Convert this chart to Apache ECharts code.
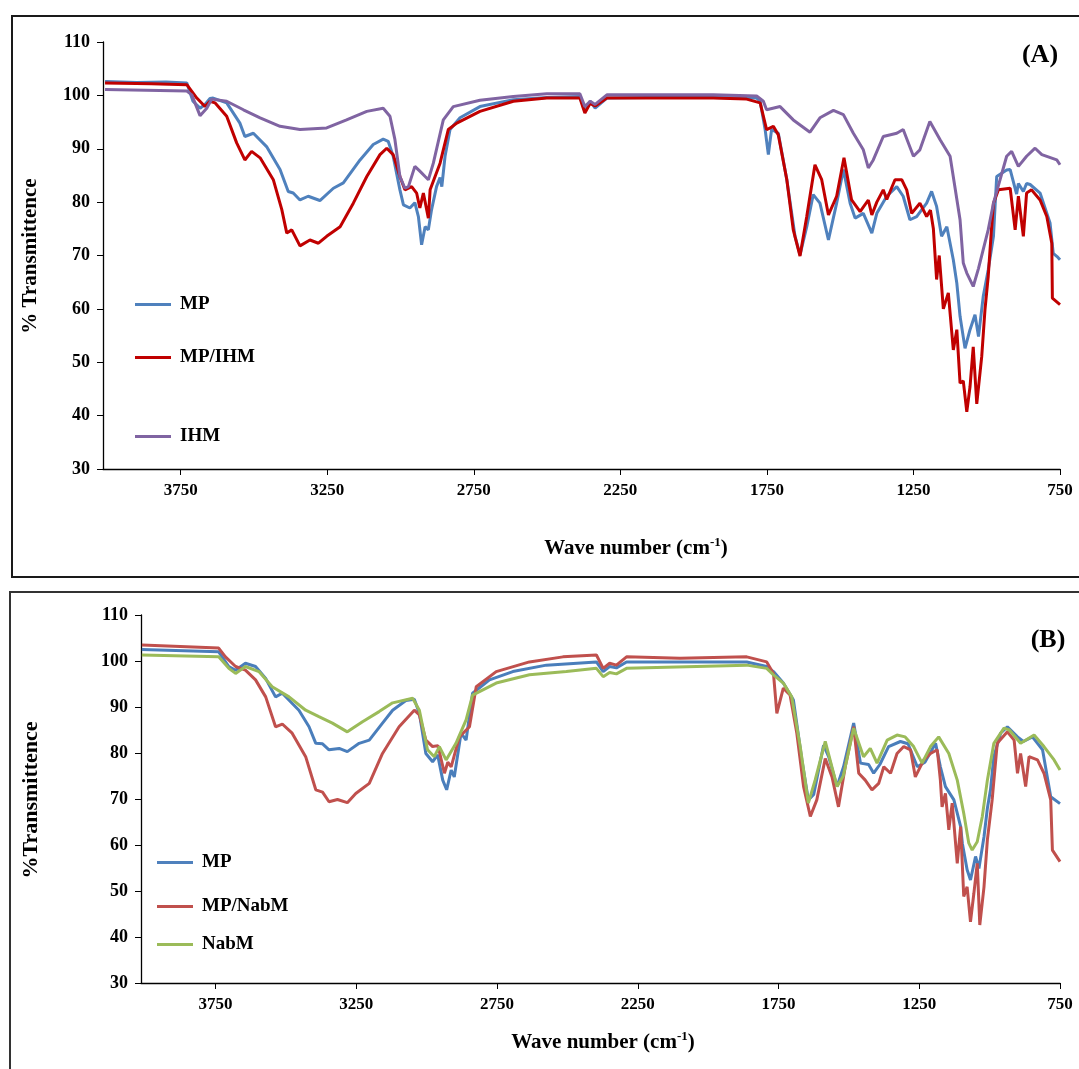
<!DOCTYPE html>
<html>
<head>
<meta charset="utf-8">
<title>FTIR spectra</title>
<script src="https://cdn.jsdelivr.net/npm/echarts@6/dist/echarts.min.js"></script>
<style>
html, body { margin: 0; padding: 0; background: #fff; }
#chart { width: 1079px; height: 1069px; }
</style>
</head>
<body>
<div id="chart"></div>
<script>
// wave number ticks shared by both panels
const tickWn = [3750, 3250, 2750, 2250, 1750, 1250, 750];

// panel (A): [wave number, %T]
const mpA = [[4008,102.6],[3900,102.4],[3800,102.5],[3729,102.3],[3708,98.9],[3684,97.6],[3667,98.3],[3650,99.4],[3639,99.5],[3593,98.6],[3548,94.8],[3531,92.3],[3502,92.9],[3457,90.4],[3411,86.1],[3383,82],[3366,81.7],[3343,80.4],[3315,81.1],[3275,80.3],[3229,82.6],[3195,83.6],[3138,87.9],[3093,90.8],[3059,91.8],[3042,91.4],[3025,88.6],[3002,82.3],[2990,79.5],[2968,78.9],[2951,79.9],[2939,77.3],[2928,72],[2916,75.4],[2905,74.8],[2894,78.6],[2877,82.9],[2865,84.6],[2859,82.9],[2848,88.6],[2831,93.6],[2797,95.8],[2729,97.9],[2615,99.2],[2501,99.6],[2388,99.8],[2371,97],[2353,98.9],[2336,97.6],[2296,99.5],[2160,99.6],[1933,99.6],[1785,99.5],[1773,98.9],[1756,93.6],[1745,88.9],[1734,93.6],[1711,92.9],[1682,84.2],[1654,73.6],[1637,70.1],[1614,75.4],[1592,81.4],[1569,79.8],[1540,72.9],[1512,79.8],[1489,86.1],[1466,79.8],[1449,77],[1421,77.9],[1392,74.2],[1375,77.9],[1341,81.1],[1307,82.9],[1285,81.1],[1262,76.7],[1239,77.3],[1205,79.8],[1188,82],[1171,79.2],[1154,73.6],[1136,75.4],[1114,69.2],[1102,64.8],[1091,58.6],[1074,52.6],[1057,56.1],[1040,58.9],[1028,54.8],[1012,62.3],[995,67.3],[977,73.6],[966,84.8],[932,86],[920,86.1],[898,81.5],[892,83.5],[875,82],[864,83.5],[852,83.3],[818,81.7],[784,76.1],[773,70.4],[760,69.8],[750,69.2]];
const mpIhm = [[4008,102.3],[3850,102.2],[3729,102],[3695,99.5],[3667,97.9],[3650,98.9],[3633,98.6],[3593,96.1],[3559,91.1],[3531,87.9],[3508,89.5],[3479,88.3],[3434,84.2],[3405,78.6],[3388,74.2],[3371,74.8],[3343,71.8],[3309,72.9],[3280,72.3],[3252,73.6],[3206,75.4],[3161,79.8],[3115,84.8],[3070,88.9],[3047,90.1],[3025,88.9],[3002,84.8],[2985,82.3],[2962,82.9],[2945,81.7],[2934,78.9],[2922,81.7],[2905,77],[2899,82.3],[2865,87.3],[2837,93.6],[2808,94.8],[2729,97],[2615,98.9],[2501,99.5],[2388,99.5],[2371,96.7],[2353,98.5],[2336,98],[2296,99.5],[1933,99.5],[1819,99.3],[1773,98.6],[1751,93.6],[1728,94.2],[1711,92.6],[1682,84.2],[1660,74.8],[1637,69.9],[1614,77.3],[1586,87],[1563,84.2],[1540,77.6],[1512,81.1],[1487,88.3],[1461,80.4],[1432,78.2],[1404,80.4],[1392,77.6],[1375,80],[1353,82.3],[1341,80.5],[1313,84.2],[1290,84.2],[1273,82.3],[1256,77.9],[1228,79.8],[1205,77.3],[1192,78.5],[1182,75],[1171,65.5],[1162,70],[1148,60],[1131,63],[1114,52.3],[1102,56.1],[1091,46.1],[1080,46.5],[1068,40.7],[1057,45.4],[1046,52.9],[1034,42.2],[1017,51.1],[1006,59.8],[995,66],[985,74],[977,79.8],[960,82.3],[920,82.6],[903,74.8],[892,81.1],[875,73.6],[864,81.7],[847,82.3],[818,80.4],[795,77.3],[778,72.3],[776,62],[750,60.8]];
const ihm = [[4008,101.1],[3729,100.8],[3712,100.1],[3684,96.2],[3661,97.6],[3644,99.3],[3593,98.9],[3536,97.3],[3479,95.8],[3411,94.2],[3343,93.6],[3252,93.9],[3184,95.4],[3115,97],[3059,97.6],[3036,96.1],[3019,91.7],[3002,84.8],[2985,82.6],[2973,82.9],[2951,86.7],[2934,85.8],[2916,84.8],[2905,84.2],[2888,87.3],[2854,95.4],[2820,97.9],[2729,99.1],[2615,99.8],[2501,100.3],[2388,100.3],[2371,97.9],[2353,98.9],[2336,98.3],[2296,100.1],[2160,100.1],[1933,100.1],[1785,99.9],[1762,98.9],[1751,97.3],[1705,97.9],[1660,95.4],[1603,93.1],[1569,95.8],[1523,97.2],[1489,96.4],[1455,92.9],[1421,89.8],[1404,86.4],[1387,87.9],[1353,92.3],[1307,92.9],[1285,93.6],[1250,88.6],[1228,89.8],[1194,95.1],[1159,91.7],[1125,88.6],[1091,76.7],[1080,68.6],[1068,66.7],[1046,64.2],[1028,67.6],[1012,71.1],[995,74.8],[977,79.8],[932,88.6],[915,89.5],[892,86.7],[864,88.6],[835,90.1],[812,88.9],[761,87.9],[750,87]];

// panel (B): [wave number, %T]
const mpB = [[4012,102.5],[3739,102],[3703,98.8],[3679,98],[3644,99.5],[3608,98.8],[3572,96.2],[3537,92.2],[3513,93],[3454,89.3],[3418,85.7],[3394,82.1],[3370,82],[3347,80.7],[3311,81],[3282,80.3],[3240,82.1],[3204,82.8],[3157,86.5],[3121,89.3],[3074,91.4],[3044,91.7],[3026,88.6],[3003,79.9],[2979,78.1],[2961,79.6],[2943,74.1],[2929,72],[2913,76.3],[2902,74.8],[2878,84.3],[2860,82.8],[2837,93],[2777,95.9],[2694,97.7],[2575,99.1],[2397,99.8],[2373,97.7],[2350,98.8],[2326,98.5],[2290,99.8],[1863,99.8],[1792,98.8],[1768,97.7],[1733,95.2],[1697,91.5],[1667,78.5],[1644,69.8],[1625,71],[1590,81.7],[1572,79.2],[1542,72.7],[1519,77],[1483,86.5],[1459,77.8],[1430,77.5],[1412,75.6],[1390,77.5],[1359,81.4],[1317,82.5],[1290,82],[1257,77],[1230,78],[1192,82.1],[1175,77],[1157,72.7],[1127,69.8],[1103,64],[1097,60.4],[1080,54.6],[1068,52.4],[1050,57.5],[1038,54.9],[1020,61.8],[1008,68],[997,72],[985,79.2],[961,84.3],[937,85.7],[901,83.5],[880,82.5],[848,83.5],[812,80.7],[783,70.5],[750,69]];
const mpNabm = [[4012,103.5],[3739,102.8],[3715,100.9],[3679,98.8],[3644,98],[3608,95.9],[3572,92.2],[3537,85.7],[3513,86.3],[3478,84.3],[3430,79.2],[3394,72],[3370,71.5],[3347,69.4],[3317,69.9],[3282,69.2],[3252,71.2],[3204,73.4],[3157,79.9],[3098,85.7],[3044,89.3],[3026,88.3],[3003,82.8],[2979,81.4],[2960,81.6],[2937,75.6],[2925,78],[2913,77],[2884,83.5],[2848,85.7],[2824,94.4],[2753,97.7],[2635,99.8],[2516,100.9],[2397,101.3],[2373,98.4],[2350,99.5],[2326,99.1],[2290,100.9],[2100,100.6],[1863,100.9],[1792,99.8],[1768,97.3],[1756,88.6],[1733,94.1],[1709,92.6],[1685,84.3],[1661,72.7],[1637,66.2],[1614,69.8],[1584,78.8],[1560,74.8],[1537,68.3],[1513,77],[1483,85.7],[1465,75.6],[1442,74.1],[1418,72],[1394,73.4],[1376,77],[1352,75.6],[1329,79.9],[1305,81.4],[1281,80.7],[1264,74.8],[1234,78.5],[1210,79.9],[1186,80.7],[1175,74.1],[1169,68.3],[1157,71.2],[1145,63.3],[1133,69.1],[1115,56],[1103,64],[1092,48.8],[1080,50.9],[1068,43.3],[1056,49.5],[1044,56],[1035,42.6],[1020,50.9],[1008,61.1],[991,69.8],[973,82.1],[937,84.6],[913,82.8],[901,75.6],[890,79.9],[872,72.7],[860,79.2],[830,78.5],[807,75.6],[783,69.8],[777,58.9],[750,56.4]];
const nabm = [[4012,101.3],[3739,100.9],[3703,98.4],[3679,97.3],[3644,98.8],[3596,97.7],[3549,94.4],[3489,92.2],[3430,89.3],[3383,87.9],[3335,86.5],[3282,84.6],[3228,86.8],[3169,89],[3121,90.9],[3050,91.9],[3026,89.3],[2997,80.7],[2973,79.2],[2955,81.4],[2931,78.5],[2896,82.1],[2860,87.2],[2837,92.6],[2753,95.2],[2635,97],[2504,97.7],[2397,98.4],[2373,96.6],[2350,97.5],[2326,97.2],[2290,98.4],[1863,99.1],[1792,98.4],[1768,97],[1733,95.2],[1703,92.2],[1673,81.4],[1644,69.1],[1620,74.1],[1584,82.5],[1542,72.7],[1520,75],[1483,85.4],[1448,79.2],[1424,81],[1400,77.8],[1364,82.8],[1329,83.9],[1300,83.5],[1270,81.4],[1240,77.8],[1210,81.4],[1181,83.5],[1145,79.9],[1115,74.1],[1092,66.9],[1074,60.4],[1062,58.9],[1044,60.7],[1026,66.2],[1008,74.1],[985,82.1],[949,85.4],[930,85],[890,82.1],[842,83.9],[807,81.4],[771,78.5],[750,76.3]];

const FONT = '"Liberation Serif", "Times New Roman", serif';
const boldText = { fontFamily: FONT, fontWeight: 'bold', color: '#000' };

function xAxisFor(gridIndex) {
  return {
    type: 'value', gridIndex, min: 750, max: 4015, inverse: true,
    axisLine: { show: true, onZero: false, lineStyle: { color: '#000', width: 1.3 } },
    axisTick: { show: true, customValues: tickWn, length: 6, lineStyle: { color: '#000' } },
    axisLabel: { customValues: tickWn, ...boldText, fontSize: 17, margin: 13, formatter: (v) => String(v) },
    splitLine: { show: false },
  };
}
function yAxisFor(gridIndex) {
  return {
    type: 'value', gridIndex, min: 30, max: 110, interval: 10,
    axisLine: { show: true, lineStyle: { color: '#000', width: 1.3 } },
    axisTick: { show: true, length: 6, lineStyle: { color: '#000' } },
    axisLabel: { ...boldText, fontSize: 18, margin: 13 },
    splitLine: { show: false },
  };
}
function line(name, data, color, idx) {
  return {
    name, type: 'line', data, xAxisIndex: idx, yAxisIndex: idx,
    symbol: 'none', smooth: false, lineStyle: { width: 3, color }, itemStyle: { color },
  };
}
function legendAt(name, left, top) {
  return {
    data: [name], left, top, icon: 'rect', itemWidth: 36, itemHeight: 3,
    textStyle: { ...boldText, fontSize: 19, padding: [0, 0, 0, 4] },
  };
}
function titleText(x, y, rotation, size) {
  return {
    type: 'text', x, y, rotation,
    style: {
      text: '{a|Wave number (cm}{s|-1}{a|)}',
      align: 'center', verticalAlign: 'middle', textAlign: 'center', textVerticalAlign: 'middle',
      rich: {
        a: { fontFamily: FONT, fontWeight: 'bold', fontSize: size, fill: '#000' },
        s: { fontFamily: FONT, fontWeight: 'bold', fontSize: 13, fill: '#000', padding: [0, 0, 12, 0] },
      },
    },
  };
}
function plainText(text, x, y, rotation, size) {
  return {
    type: 'text', x, y, rotation,
    style: {
      text, fontFamily: FONT, fontWeight: 'bold', fontSize: size, fill: '#000',
      align: 'center', verticalAlign: 'middle', textAlign: 'center', textVerticalAlign: 'middle',
    },
  };
}

const chart = echarts.init(document.getElementById('chart'));
chart.setOption({
  animation: false,
  backgroundColor: '#fff',
  grid: [
    { left: 103, top: 42, width: 957, height: 427, outerBoundsMode: 'none' },
    { left: 141, top: 615, width: 919, height: 368, outerBoundsMode: 'none' },
  ],
  xAxis: [xAxisFor(0), xAxisFor(1)],
  yAxis: [yAxisFor(0), yAxisFor(1)],
  legend: [
    legendAt('MP', 130, 290),
    legendAt('MP/IHM', 130, 343),
    legendAt('IHM', 130, 422),
    legendAt('MP', 152, 848),
    legendAt('MP/NabM', 152, 892),
    legendAt('NabM', 152, 930),
  ],
  graphic: [
    { type: 'rect', shape: { x: 12, y: 16, width: 1080, height: 561 }, style: { fill: 'none', stroke: '#1a1a1a', lineWidth: 2 } },
    { type: 'rect', shape: { x: 10, y: 592, width: 1082, height: 490 }, style: { fill: 'none', stroke: '#333', lineWidth: 2 } },
    titleText(636, 549, 0, 21),
    titleText(603, 1043, 0, 21),
    plainText('% Transmittence', 31, 256, Math.PI / 2, 21),
    plainText('%Transmittence', 31, 800, Math.PI / 2, 22),
    plainText('(A)', 1040, 55, 0, 26),
    plainText('(B)', 1048, 640, 0, 26),
  ],
  series: [
    line('MP', mpA, '#4F81BD', 0),
    line('MP/IHM', mpIhm, '#C00000', 0),
    line('IHM', ihm, '#8064A2', 0),
    line('MP', mpB, '#4A7EBB', 1),
    line('MP/NabM', mpNabm, '#C0504D', 1),
    line('NabM', nabm, '#9BBB59', 1),
  ],
});
</script>
</body>
</html>
